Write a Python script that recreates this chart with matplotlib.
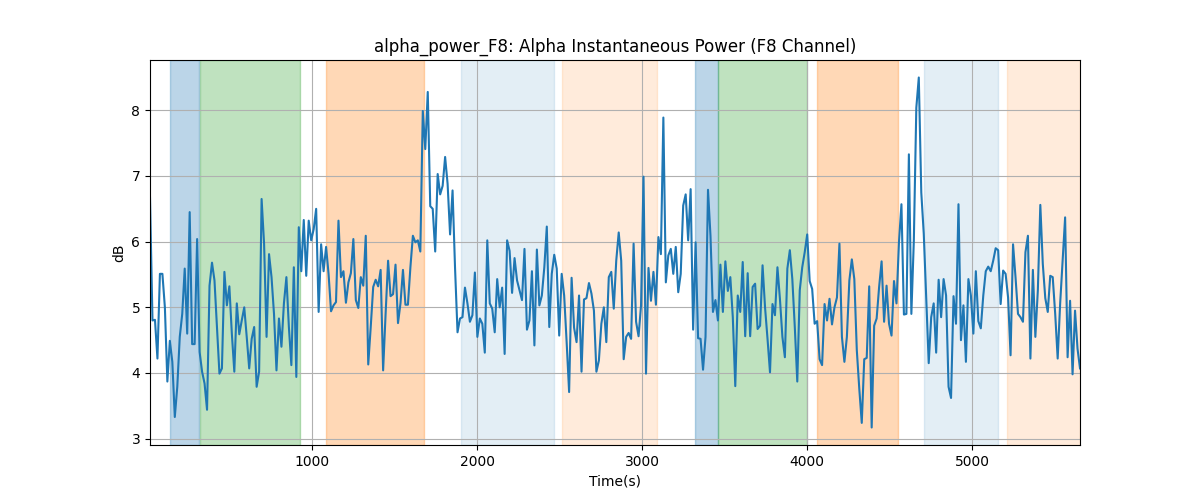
import numpy as np
import matplotlib
matplotlib.use("Agg")
import matplotlib.pyplot as plt

t_start, t_end = 15, 5655

values = [
    # segment 1
    6.67, 4.80, 4.81, 4.22, 5.51, 5.51, 5.00, 3.87, 4.49, 4.17, 3.33, 3.79, 4.55, 4.90, 5.59, 4.60,
    6.45, 4.44, 4.44, 6.04, 4.32, 4.02, 3.84, 3.44, 5.33, 5.68, 5.41, 4.70, 3.99, 4.07, 5.54, 5.03,
    5.32, 4.60, 4.02, 5.06, 4.59, 4.80, 5.00, 4.55, 4.07, 4.52, 4.70, 3.79, 4.02, 6.65,
    # segment 2
    5.97, 4.55, 5.81, 5.46, 4.90, 4.04, 4.83, 4.40, 5.06, 5.46, 4.70, 4.12, 5.61, 3.94, 6.22, 5.55,
    6.33, 5.48, 6.32, 6.02, 6.19, 6.50, 4.93, 5.96, 5.55, 5.92, 5.51, 4.94, 5.03, 5.08, 6.32, 5.46,
    5.55, 5.07, 5.38, 5.52, 6.04, 5.11, 4.99, 5.46, 5.33, 6.09, 4.13, 4.70, 5.31, 5.42, 5.32,
    # segment 3
    5.57, 4.04, 4.90, 5.71, 5.17, 5.20, 5.65, 4.76, 5.06, 5.57, 5.04, 5.04, 5.61, 6.09, 5.99, 6.02,
    5.85, 7.99, 7.41, 8.28, 6.54, 6.50, 5.85, 7.03, 6.72, 6.85, 7.29, 6.88, 6.11, 6.78, 5.60, 4.62,
    4.83, 4.85, 5.30, 5.06, 4.78, 4.88, 5.53, 4.55, 4.83, 4.75, 4.31, 6.02, 5.06, 4.98, 4.62,
    # segment 4
    5.43, 5.00, 5.30, 4.29, 6.02, 5.86, 5.22, 5.75, 5.41, 5.26, 5.11, 5.89, 4.66, 4.80, 5.55, 4.42,
    5.88, 5.03, 5.18, 5.61, 6.23, 4.70, 5.51, 5.80, 5.59, 4.57, 5.51, 5.18, 4.47, 3.71, 5.45, 4.69,
    4.47, 5.18, 4.02, 5.12, 5.14, 5.37, 5.21, 4.95, 4.02, 4.19, 4.75, 5.00, 4.47, 5.46, 5.54,
    # segment 5
    4.98, 5.71, 6.14, 5.71, 4.21, 4.55, 4.61, 4.52, 5.97, 4.78, 4.56, 5.03, 6.99, 3.99, 5.60, 5.10,
    5.54, 5.04, 6.07, 5.81, 7.89, 5.38, 5.79, 5.89, 5.51, 5.92, 5.23, 5.51, 6.55, 6.72, 6.02, 6.80,
    4.66, 5.99, 4.53, 4.52, 4.05, 4.55, 6.79, 6.09, 4.93, 5.11, 4.80, 5.65, 4.93, 5.70, 5.25,
    # segment 6
    5.46, 4.85, 3.80, 5.18, 4.93, 5.69, 4.56, 5.52, 4.56, 5.31, 5.36, 4.67, 4.72, 5.64, 5.00, 4.52,
    4.01, 5.05, 4.88, 5.61, 5.13, 4.55, 4.24, 5.59, 5.87, 5.43, 4.70, 3.87, 5.26, 5.61, 5.84, 6.11,
    5.40, 5.28, 4.75, 4.79, 4.21, 4.12, 5.05, 4.80, 5.13, 4.74, 5.00, 5.15, 5.97, 4.55, 4.17,
    # segment 7
    4.55, 5.41, 5.73, 5.43, 4.35, 3.76, 3.24, 4.21, 4.23, 5.32, 3.17, 4.72, 4.83, 5.31, 5.70, 4.78,
    5.33, 4.75, 4.57, 5.40, 5.06, 5.99, 6.57, 4.89, 4.90, 7.33, 4.90, 6.02, 8.04, 8.50, 6.75, 6.12,
    5.15, 4.15, 4.85, 5.06, 4.31, 5.42, 4.85, 5.43, 5.18, 3.79, 3.62, 5.17, 4.75, 6.57, 4.50,
    # segment 8
    5.03, 4.17, 5.43, 5.18, 4.60, 5.55, 4.79, 4.68, 5.18, 5.55, 5.62, 5.55, 5.71, 5.90, 5.87, 5.05,
    5.56, 5.51, 5.15, 4.27, 5.96, 5.46, 4.90, 4.85, 4.78, 5.84, 6.09, 4.22, 5.57, 4.55, 5.26, 6.56,
    5.66, 5.14, 4.93, 5.48, 5.46, 4.90, 4.22, 5.06, 5.71, 6.37, 4.24, 5.10, 3.98, 4.95, 4.37, 4.07,
]

span_starts = [138, 317, 1083, 1903, 2513, 3319, 3461, 4059, 4707, 5210]
span_ends = [313, 924, 1675, 2465, 3087, 3461, 4000, 4554, 5155, 5655]
span_colors = ["tab:blue", "tab:green", "tab:orange", "tab:blue", "tab:orange",
               "tab:blue", "tab:green", "tab:orange", "tab:blue", "tab:orange"]
span_alphas = [0.3, 0.3, 0.3, 0.12, 0.15, 0.3, 0.3, 0.3, 0.12, 0.15]

times = np.linspace(t_start, t_end, len(values))

fig, ax = plt.subplots(figsize=(12, 5), dpi=100)
for s, e, c, a in zip(span_starts, span_ends, span_colors, span_alphas):
    ax.axvspan(s, e, color=c, alpha=a)
ax.plot(times, values, color="tab:blue", linewidth=1.5)
ax.set_xlim(times[0], times[-1])
ax.grid(True)
ax.set_title("alpha_power_F8: Alpha Instantaneous Power (F8 Channel)")
ax.set_xlabel("Time(s)")
ax.set_ylabel("dB")
fig.savefig("out.png", dpi=100)
